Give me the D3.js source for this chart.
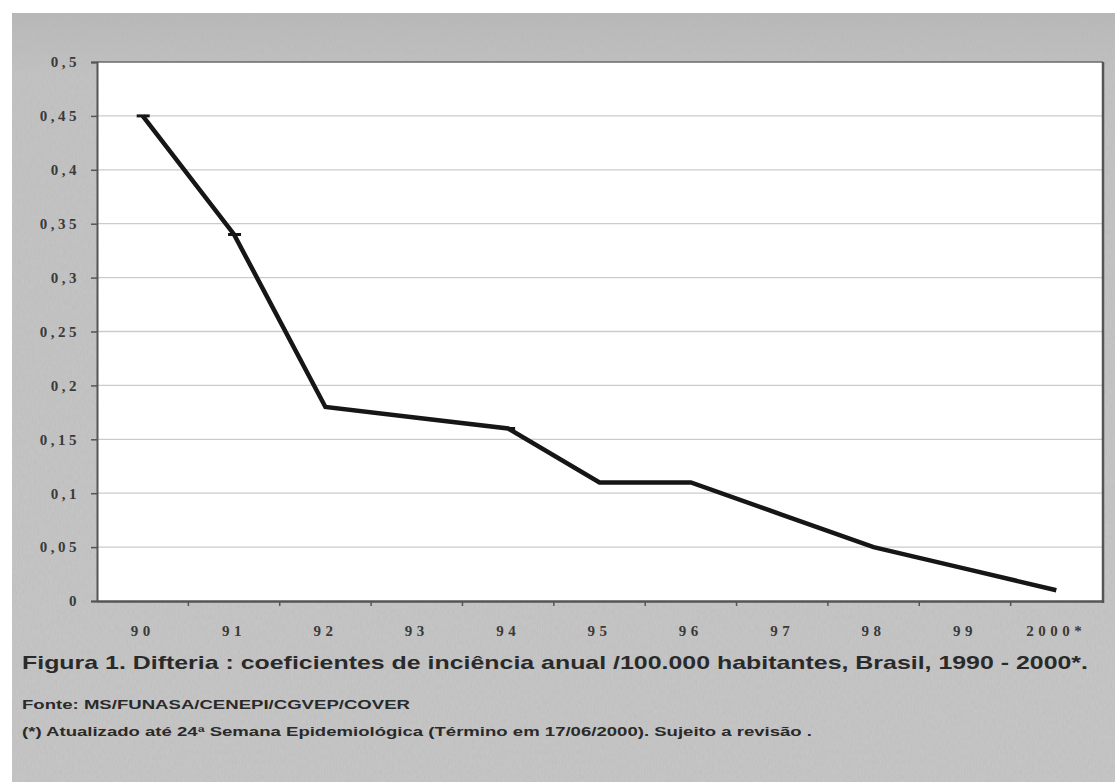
<!DOCTYPE html>
<html><head><meta charset="utf-8">
<script src="https://cdn.jsdelivr.net/npm/d3@7/dist/d3.min.js"></script>
<style>body{margin:0;background:#fff}svg{display:block}</style>
</head><body>
<svg id="c" width="1115" height="782"></svg>
<script>
const categories = ["90","91","92","93","94","95","96","97","98","99","2000*"];
const values = [0.45,0.34,0.18,0.17,0.16,0.11,0.11,0.08,0.05,0.03,0.01];
const yTicks = [0,0.05,0.1,0.15,0.2,0.25,0.3,0.35,0.4,0.45,0.5];
const yTickLabels = ["0","0,05","0,1","0,15","0,2","0,25","0,3","0,35","0,4","0,45","0,5"];
const markerIdx = [0,1,4];
const title = "Figura 1. Difteria : coeficientes de inciência anual /100.000 habitantes, Brasil, 1990 - 2000*.";
const source = "Fonte: MS/FUNASA/CENEPI/CGVEP/COVER";
const note = "(*) Atualizado até 24ª Semana  Epidemiológica (Término em 17/06/2000). Sujeito a revisão .";

const svg = d3.select("#c");
const W=1115,H=782;
const defs = svg.append("defs");
const grad = defs.append("linearGradient").attr("id","bg").attr("x1",0).attr("y1",0).attr("x2",0).attr("y2",1);
grad.append("stop").attr("offset","0").attr("stop-color","#b8b8b8");
grad.append("stop").attr("offset","0.08").attr("stop-color","#c2c2c2");
grad.append("stop").attr("offset","1").attr("stop-color","#c5c5c5");
const f = defs.append("filter").attr("id","noise").attr("x",0).attr("y",0).attr("width","100%").attr("height","100%");
f.append("feTurbulence").attr("type","fractalNoise").attr("baseFrequency","0.8 0.2").attr("numOctaves",2).attr("seed",3).attr("result","n");
f.append("feColorMatrix").attr("in","n").attr("type","matrix")
 .attr("values","0 0 0 0 0.45  0 0 0 0 0.45  0 0 0 0 0.45  0.6 0 0 0 -0.2").attr("result","m");
f.append("feComposite").attr("in","m").attr("in2","SourceGraphic").attr("operator","in").attr("result","c");
f.append("feMerge").selectAll("feMergeNode").data(["SourceGraphic","c"]).join("feMergeNode").attr("in",d=>d);

svg.append("rect").attr("width",W).attr("height",H).attr("fill","#fff");
svg.append("rect").attr("x",12).attr("y",13).attr("width",W-12).attr("height",H-13).attr("fill","url(#bg)").attr("filter","url(#noise)");

const m = {l:97,t:62,r:1102,b:601};
const x = d3.scalePoint().domain(categories).range([m.l,m.r]).padding(0.5);
const xb = d3.scaleBand().domain(categories).range([m.l,m.r]);
const y = d3.scaleLinear().domain([0,0.5]).range([m.b,m.t]);

svg.append("rect").attr("x",m.l).attr("y",m.t).attr("width",m.r-m.l).attr("height",m.b-m.t).attr("fill","#fff");

// gridlines
svg.append("g").selectAll("line").data(yTicks.filter(d=>d>0&&d<0.5)).join("line")
 .attr("x1",m.l).attr("x2",m.r).attr("y1",d=>y(d)).attr("y2",d=>y(d))
 .attr("stroke","#cbcbcb").attr("stroke-width",1.3);

// frame top/right
svg.append("line").attr("x1",m.l).attr("x2",m.r+1).attr("y1",m.t).attr("y2",m.t).attr("stroke","#6a6a6a").attr("stroke-width",1.5);
svg.append("line").attr("x1",m.r+1).attr("x2",m.r+1).attr("y1",m.t).attr("y2",m.b+2).attr("stroke","#555").attr("stroke-width",2.5);

const axisFont = "'Liberation Serif','DejaVu Serif',serif";
// y axis
const yAxis = d3.axisLeft(y).tickValues(yTicks).tickSize(6).tickFormat((d,i)=>yTickLabels[i]);
const gy = svg.append("g").attr("transform",`translate(${m.l},0)`).call(yAxis);
gy.attr("font-size",null).attr("font-family",null);
gy.select(".domain").attr("stroke","#555").attr("stroke-width",2);
gy.selectAll(".tick line").attr("stroke","#555").attr("stroke-width",1.5);
gy.selectAll(".tick text").attr("x",-17).style("font-family",axisFont).style("font-weight","bold")
 .style("font-size","15px").style("letter-spacing","3.5px").attr("fill","#3a3a3a");

// x axis
const xAxis = d3.axisBottom(xb).tickSize(0).tickFormat(d=>d);
const gx = svg.append("g").attr("transform",`translate(0,${m.b})`).call(xAxis);
gx.attr("font-size",null).attr("font-family",null);
gx.select(".domain").attr("stroke","#555").attr("stroke-width",2.5);
gx.selectAll(".tick text").attr("dy",0).attr("y",35).style("font-family",axisFont).style("font-weight","bold")
 .style("font-size","15px").style("letter-spacing","4.5px").attr("fill","#3a3a3a");
// x ticks at band boundaries
svg.append("g").selectAll("line").data(categories.slice(1)).join("line")
 .attr("x1",d=>xb(d)).attr("x2",d=>xb(d)).attr("y1",m.b).attr("y2",m.b+5)
 .attr("stroke","#555").attr("stroke-width",1.5);

// line
const line = d3.line().x((d,i)=>x(categories[i])).y(d=>y(d));
svg.append("path").datum(values).attr("d",line).attr("fill","none")
 .attr("stroke","#161616").attr("stroke-width",4.5).attr("stroke-linejoin","miter");
svg.append("g").selectAll("line").data(markerIdx).join("line")
 .attr("x1",i=>x(categories[i])-6).attr("x2",i=>x(categories[i])+7)
 .attr("y1",i=>y(values[i])).attr("y2",i=>y(values[i]))
 .attr("stroke","#161616").attr("stroke-width",3);

// texts
const sans = "'Liberation Sans',Arial,sans-serif";
svg.append("text").attr("x",22).attr("y",669).text(title)
 .attr("font-family",sans).attr("font-size",19).attr("fill","#2a2a2a").attr("font-weight","bold")
 .attr("textLength",1066).attr("lengthAdjust","spacingAndGlyphs");
svg.append("text").attr("x",22).attr("y",709).text(source)
 .attr("font-family",sans).attr("font-size",12.5).attr("font-weight","bold").attr("fill","#2a2a2a")
 .attr("textLength",388).attr("lengthAdjust","spacingAndGlyphs");
svg.append("text").attr("x",22).attr("y",736).text(note)
 .attr("font-family",sans).attr("font-size",12.5).attr("font-weight","bold").attr("fill","#2a2a2a")
 .attr("textLength",790).attr("lengthAdjust","spacingAndGlyphs");
</script>
</body></html>
